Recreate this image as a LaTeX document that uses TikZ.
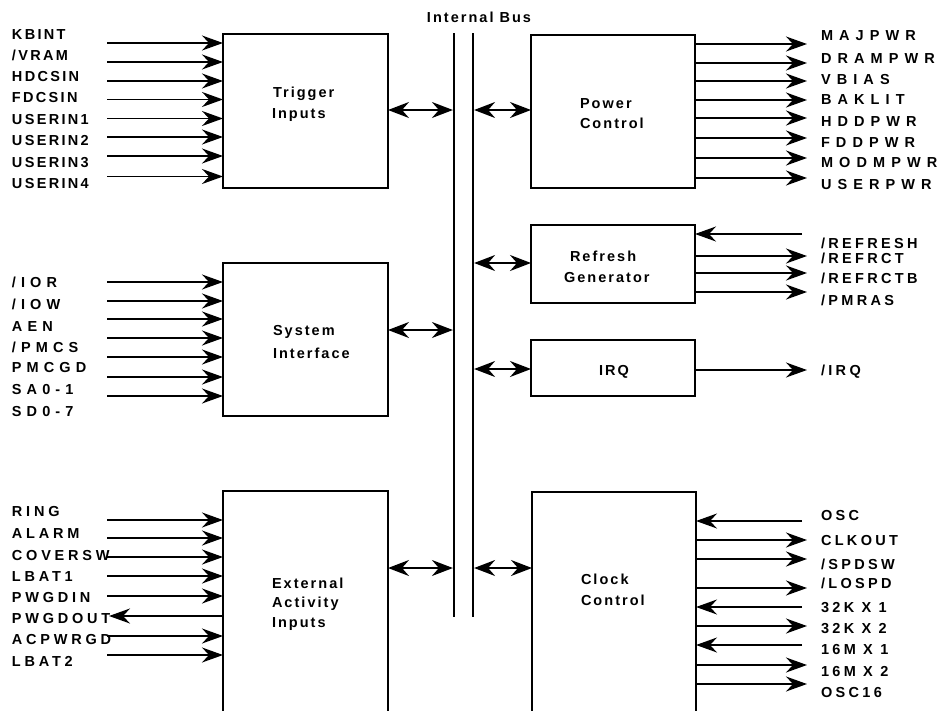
\documentclass[tikz,border=0pt]{standalone}
\usepackage{fontspec}
\setmainfont{Liberation Sans}
\newfontfamily\fTit[LetterSpace=14]{Liberation Sans}
\newfontfamily\fTrg[LetterSpace=16]{Liberation Sans}
\newfontfamily\fSys[LetterSpace=35]{Liberation Sans}
\newfontfamily\fExt[LetterSpace=26]{Liberation Sans}
\newfontfamily\fPwr[LetterSpace=42]{Liberation Sans}
\newfontfamily\fRef[LetterSpace=23]{Liberation Sans}
\usetikzlibrary{arrows.meta}
\tikzset{
  box/.style={draw, line width=1.4pt, inner sep=0pt, outer sep=0pt, anchor=north west},
  bus/.style={fill=black, inner sep=0pt, outer sep=0pt, minimum width=2.2pt, minimum height=584pt},
  arr/.style={line width=1.7pt, -{Stealth[length=21pt,width=15pt,inset=7pt]}},
  biarr/.style={line width=1.7pt, {Stealth[length=21pt,width=16pt,inset=7pt]}-{Stealth[length=21pt,width=16pt,inset=7pt]}},
  lbl/.style={inner sep=0pt, outer sep=0pt, anchor=west, text height=10.4pt, text depth=0pt},
  lT/.style={lbl, font=\fTrg\bfseries\fontsize{14.5}{17}\selectfont},
  lS/.style={lbl, font=\fSys\bfseries\fontsize{14.5}{17}\selectfont},
  lE/.style={lbl, font=\fExt\bfseries\fontsize{14.5}{17}\selectfont},
  lP/.style={lbl, font=\fPwr\bfseries\fontsize{14.5}{17}\selectfont},
  lR/.style={lbl, font=\fRef\bfseries\fontsize{14.5}{17}\selectfont},
  ttl/.style={lbl, font=\fTit\bfseries\fontsize{14.5}{17}\selectfont},
}
% left input: name, style, text, label y, arrow y, box
\newcommand\sigIn[6]{%
  \node[#2] (l#1) at (12,#4) {#3};
  \coordinate (c#1) at (107,#5);
  \draw[arr] (c#1) -- (c#1 -| #6.west);}
\newcommand\sigLout[6]{%
  \node[#2] (l#1) at (12,#4) {#3};
  \coordinate (c#1) at (109,#5);
  \draw[arr] (c#1 -| #6.west) -- (c#1);}
\newcommand\sigRout[6]{%
  \node[#2] (l#1) at (821,#4) {#3};
  \coordinate (c#1) at (807,#5);
  \draw[arr] (c#1 -| #6.east) -- (c#1);}
\newcommand\sigRin[6]{%
  \node[#2] (l#1) at (821,#4) {#3};
  \coordinate (c#1) at (802,#5);
  \draw[arr] (c#1) -- (c#1 -| #6.east);}
\begin{document}
\begin{tikzpicture}[x=1pt,y=-1pt]
\clip (0,0) rectangle (945,710);
\fill[white] (0,0) rectangle (945,710);
% boxes
\node[box, minimum width=165pt, minimum height=154pt] (trig) at (223,34) {};
\node[box, minimum width=165pt, minimum height=153pt] (sys) at (223,263) {};
\node[box, minimum width=165pt, minimum height=260pt] (ext) at (223,491) {};
\node[box, minimum width=164pt, minimum height=153pt] (pwr) at (531,35) {};
\node[box, minimum width=164pt, minimum height=78pt] (ref) at (531,225) {};
\node[box, minimum width=164pt, minimum height=56pt] (irq) at (531,340) {};
\node[box, minimum width=164pt, minimum height=260pt] (clk) at (532,492) {};
% bus
\node[bus] (busL) at (454,325) {};
\node[bus] (busR) at (473,325) {};
\node[ttl, anchor=center] (tBus) at (479,17) {Internal Bus};
% titles
\node[ttl] (tTrig1) at (273,92) {Trigger};
\node[ttl] (tTrig2) at (272,113) {Inputs};
\node[ttl] (tSys1) at (273,330) {System};
\node[ttl] (tSys2) at (273,353) {Interface};
\node[ttl] (tExt1) at (272,583) {External};
\node[ttl] (tExt2) at (272,602) {Activity};
\node[ttl] (tExt3) at (272,622) {Inputs};
\node[ttl] (tPwr1) at (580,103) {Power};
\node[ttl] (tPwr2) at (580,123) {Control};
\node[ttl] (tRef1) at (570,256) {Refresh};
\node[ttl] (tRef2) at (564,277) {Generator};
\node[ttl, anchor=center] (tIrq) at (614,370) {IRQ};
\node[ttl] (tClk1) at (581,579) {Clock};
\node[ttl] (tClk2) at (581,600) {Control};
% bus connections
\draw[biarr] (trig.east |- 0,110) -- (busL.west |- 0,110);
\draw[biarr] (sys.east |- 0,330) -- (busL.west |- 0,330);
\draw[biarr] (ext.east |- 0,568) -- (busL.west |- 0,568);
\draw[biarr] (busR.east |- 0,110) -- (pwr.west |- 0,110);
\draw[biarr] (busR.east |- 0,263) -- (ref.west |- 0,263);
\draw[biarr] (busR.east |- 0,369) -- (irq.west |- 0,369);
\draw[biarr] (busR.east |- 0,568) -- (clk.west |- 0,568);
% trigger inputs
\sigIn{a1}{lT}{KBINT}{34.5}{43}{trig}
\sigIn{a2}{lT}{/VRAM}{55}{62}{trig}
\sigIn{a3}{lT}{HDCSIN}{76}{81}{trig}
\sigIn{a4}{lT}{FDCSIN}{97}{99.5}{trig}
\sigIn{a5}{lT}{USERIN1}{119}{118.5}{trig}
\sigIn{a6}{lT}{USERIN2}{140}{137}{trig}
\sigIn{a7}{lT}{USERIN3}{162}{156}{trig}
\sigIn{a8}{lT}{USERIN4}{183}{176.5}{trig}
% system interface
\sigIn{b1}{lS}{/IOR}{282}{282}{sys}
\sigIn{b2}{lS}{/IOW}{304}{301}{sys}
\sigIn{b3}{lS}{AEN}{326}{319}{sys}
\sigIn{b4}{lS}{/PMCS}{347}{338}{sys}
\sigIn{b5}{lS}{PMCGD}{367}{357}{sys}
\sigIn{b6}{lS}{SA0-1}{389}{377}{sys}
\sigIn{b7}{lS}{SD0-7}{411}{396}{sys}
% external activity
\sigIn{e1}{lE}{RING}{511}{520}{ext}
\sigIn{e2}{lE}{ALARM}{533}{538}{ext}
\sigIn{e3}{lE}{COVERSW}{555}{557}{ext}
\sigIn{e4}{lE}{LBAT1}{576}{576}{ext}
\sigIn{e5}{lE}{PWGDIN}{597}{596}{ext}
\sigLout{e6}{lE}{PWGDOUT}{618}{616}{ext}
\sigIn{e7}{lE}{ACPWRGD}{639}{636}{ext}
\sigIn{e8}{lE}{LBAT2}{661}{655}{ext}
% power control
\sigRout{p1}{lP}{MAJPWR}{35.5}{44}{pwr}
\sigRout{p2}{lP}{DRAMPWR}{58}{63}{pwr}
\sigRout{p3}{lP}{VBIAS}{79.5}{81}{pwr}
\sigRout{p4}{lP}{BAKLIT}{99.5}{100}{pwr}
\sigRout{p5}{lP}{HDDPWR}{121}{118}{pwr}
\sigRout{p6}{lP}{FDDPWR}{142}{138}{pwr}
\sigRout{p7}{lP}{MODMPWR}{162.5}{158}{pwr}
\sigRout{p8}{lP}{USERPWR}{184}{178}{pwr}
% refresh
\sigRin{r1}{lR}{/REFRESH}{243.5}{234}{ref}
\sigRout{r2}{lR}{/REFRCT}{258.5}{256}{ref}
\sigRout{r3}{lR}{/REFRCTB}{278}{273}{ref}
\sigRout{r4}{lR}{/PMRAS}{300}{292}{ref}
% irq
\sigRout{q1}{lR}{/IRQ}{370}{370}{irq}
% clock
\sigRin{k1}{lR}{OSC}{515}{521}{clk}
\sigRout{k2}{lR}{CLKOUT}{540}{540}{clk}
\sigRout{k3}{lR}{/SPDSW}{564}{559}{clk}
\sigRout{k4}{lR}{/LOSPD}{583}{588}{clk}
\sigRin{k5}{lR}{32K X 1}{607}{607}{clk}
\sigRout{k6}{lR}{32K X 2}{628}{626}{clk}
\sigRin{k7}{lR}{16M X 1}{649.5}{645}{clk}
\sigRout{k8}{lR}{16M X 2}{671}{665}{clk}
\sigRout{k9}{lR}{OSC16}{692.5}{684}{clk}
\end{tikzpicture}
\end{document}
